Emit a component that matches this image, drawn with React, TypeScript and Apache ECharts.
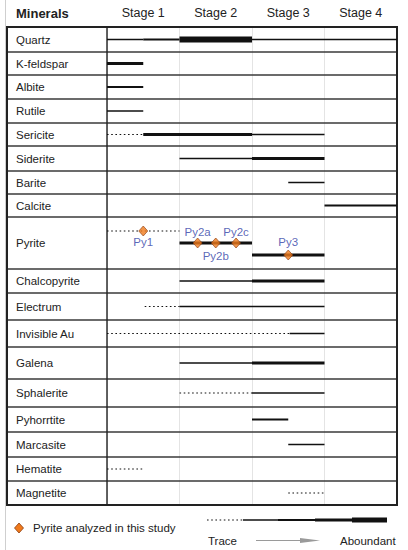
import React, { useEffect, useRef } from "react";
import * as echarts from "echarts";

// ---------- data ----------
const stages = ["Stage 1", "Stage 2", "Stage 3", "Stage 4"];

const minerals = [
  "Quartz", "K-feldspar", "Albite", "Rutile", "Sericite", "Siderite", "Barite",
  "Calcite", "Pyrite", "Chalcopyrite", "Electrum", "Invisible Au", "Galena",
  "Sphalerite", "Pyhorrtite", "Marcasite", "Hematite", "Magnetite",
];

// abundance level: 0 trace (dotted), 1 minor, 2 moderate, 3 major, 4 abundant
// [mineral, from stage, to stage, level]
const occurrences: [string, number, number, number][] = [
  ["Quartz", 0, 0.5, 1], ["Quartz", 0.5, 1, 2], ["Quartz", 1, 2, 4], ["Quartz", 2, 4, 1],
  ["K-feldspar", 0, 0.5, 3],
  ["Albite", 0, 0.5, 2],
  ["Rutile", 0, 0.5, 1],
  ["Sericite", 0, 0.5, 0], ["Sericite", 0.5, 2, 3], ["Sericite", 2, 3, 1],
  ["Siderite", 1, 2, 1], ["Siderite", 2, 3, 3],
  ["Barite", 2.5, 3, 1],
  ["Calcite", 3, 4, 2],
  ["Chalcopyrite", 1, 2, 1], ["Chalcopyrite", 2, 3, 3],
  ["Electrum", 0.52, 1, 0], ["Electrum", 1, 3, 1],
  ["Invisible Au", 0, 2.52, 0], ["Invisible Au", 2.52, 3, 1],
  ["Galena", 1, 2, 1], ["Galena", 2, 3, 3],
  ["Sphalerite", 1, 2, 0], ["Sphalerite", 2, 3, 1],
  ["Pyhorrtite", 2, 2.5, 2],
  ["Marcasite", 2.5, 3, 1],
  ["Hematite", 0, 0.5, 0],
  ["Magnetite", 2.5, 3, 0],
];

// pyrite generations: [name, from stage, to stage, level, lane]
const pyriteGenerations: [string, number, number, number, number][] = [
  ["Py1", 0, 1, 0, -1],
  ["Py2", 1, 2, 3, 0],
  ["Py3", 2, 3, 3, 1],
];

// analysed pyrite samples
const pyriteSamples = ["Py1", "Py2a", "Py2b", "Py2c", "Py3"];
const pyriteStage = [0.5, 1.25, 1.5, 1.78, 2.5];
const pyriteLane = [-1, 0, 0, 0, 1];
const pyriteLabelSide = ["bottom", "top", "bottom", "top", "top"];

// ---------- layout ----------
const ROW_H = [25, 23, 24, 24, 23, 25, 23, 23, 52, 24, 27, 27, 32, 28, 25, 25, 24, 24];
const rowStart: number[] = [];
{
  let acc = 0;
  ROW_H.forEach((h) => { rowStart.push(acc); acc += h; });
}
const TOTAL = ROW_H.reduce((a, b) => a + b, 0);
const LABEL_COL = 100;
const LANE = 12;
const FONT = "'Liberation Sans', Arial, Helvetica, sans-serif";
const LEVEL_W = [1.1, 1.3, 2.2, 3, 6];

function rowCenter(name: string) {
  const i = minerals.indexOf(name);
  return rowStart[i] + ROW_H[i] / 2;
}

function lineStyle(level: number) {
  return {
    stroke: "#111",
    lineWidth: LEVEL_W[level],
    lineDash: level === 0 ? [1.6, 2.6] : null,
    lineCap: "butt",
  };
}

export default function App() {
  const ref = useRef<HTMLDivElement>(null);
  useEffect(() => {
    if (!ref.current) return;
    const chart = echarts.init(ref.current, null, { renderer: "svg" });

    const segData = [
      ...occurrences.map((o) => [o[1], rowCenter(o[0]), o[2], o[3]]),
      ...pyriteGenerations.map((g) => [g[1], rowCenter("Pyrite") + g[4] * LANE, g[2], g[3]]),
    ];

    const labelDistance: Record<string, number> = { Py1: 0, Py2a: 0, Py2b: 2, Py2c: 0, Py3: 2 };

    const option: any = {
      animation: false,
      grid: { left: 107, right: 11, top: 27, bottom: 45 },
      xAxis: [
        {
          type: "value", min: 0, max: 4, interval: 1,
          axisLine: { show: false }, axisTick: { show: false }, axisLabel: { show: false },
          splitLine: { show: true, lineStyle: { color: "#e4e4e4", width: 1 } },
        },
        {
          type: "category", data: stages, position: "top", boundaryGap: true,
          axisLine: { show: false }, axisTick: { show: false }, splitLine: { show: false },
          axisLabel: { margin: 8, fontSize: 12.5, color: "#222", fontFamily: FONT },
        },
      ],
      yAxis: { type: "value", min: 0, max: TOTAL, inverse: true, show: false },
      graphic: [
        { type: "line", shape: { x1: 5.5, y1: 0, x2: 5.5, y2: 550 }, style: { stroke: "#cfcfcf", lineWidth: 1 } },
        { type: "text", left: 16, top: 7, style: { text: "Minerals", font: `bold 13px ${FONT}`, fill: "#222" } },
        // legend: analysed pyrite
        { type: "polygon", shape: { points: [[19, 523], [23.5, 528], [19, 533], [14.5, 528]] }, style: { fill: "#f07a1c", stroke: "#8a3c10", lineWidth: 0.8 } },
        { type: "text", x: 33, y: 528, style: { text: "Pyrite analyzed in this study", font: `11.5px ${FONT}`, fill: "#222", verticalAlign: "middle" } },
        // legend: abundance
        { type: "line", shape: { x1: 207, y1: 520, x2: 243, y2: 520 }, style: lineStyle(0) },
        { type: "line", shape: { x1: 243, y1: 520, x2: 278, y2: 520 }, style: lineStyle(1) },
        { type: "line", shape: { x1: 278, y1: 520, x2: 315, y2: 520 }, style: lineStyle(2) },
        { type: "line", shape: { x1: 315, y1: 520, x2: 352, y2: 520 }, style: lineStyle(3) },
        { type: "line", shape: { x1: 352, y1: 520, x2: 387, y2: 520 }, style: { ...lineStyle(4), lineWidth: 5 } },
        { type: "text", x: 208, y: 541, style: { text: "Trace", font: `11.5px ${FONT}`, fill: "#222", verticalAlign: "middle" } },
        { type: "line", shape: { x1: 256, y1: 540.5, x2: 305, y2: 540.5 }, style: { stroke: "#9a9a9a", lineWidth: 1 } },
        { type: "polygon", shape: { points: [[300, 538], [320, 540.5], [300, 543]] }, style: { fill: "#9a9a9a" } },
        { type: "text", x: 340, y: 541, style: { text: "Aboundant", font: `11.5px ${FONT}`, fill: "#222", verticalAlign: "middle" } },
      ],
      series: [
        {
          name: "rows", type: "custom", clip: false, silent: true, z: 3,
          data: minerals.map((m, i) => [0, rowStart[i], rowStart[i] + ROW_H[i], i]),
          renderItem: (params: any, api: any) => {
            const y0 = api.value(1), y1 = api.value(2), i = api.value(3);
            const pTop = api.coord([0, y0]);
            const pBot = api.coord([4, y1]);
            const pMid = api.coord([0, (y0 + y1) / 2]);
            const children: any[] = [
              { type: "text", style: { text: minerals[i], x: pTop[0] - LABEL_COL + 9, y: pMid[1], verticalAlign: "middle", font: `11.5px ${FONT}`, fill: "#222" } },
            ];
            if (i < minerals.length - 1) {
              children.push({ type: "line", shape: { x1: pTop[0] - LABEL_COL, y1: pBot[1], x2: pBot[0], y2: pBot[1] }, style: { stroke: "#3a3a3a", lineWidth: 1.3 } });
            }
            return { type: "group", children };
          },
        },
        {
          name: "frame", type: "custom", clip: false, silent: true, z: 4,
          data: [[0, 0]],
          renderItem: (params: any, api: any) => {
            const a = api.coord([0, 0]);
            const b = api.coord([4, TOTAL]);
            return {
              type: "group",
              children: [
                { type: "rect", shape: { x: a[0] - LABEL_COL, y: a[1], width: b[0] - a[0] + LABEL_COL, height: b[1] - a[1] }, style: { fill: "none", stroke: "#222", lineWidth: 2 } },
                { type: "line", shape: { x1: a[0], y1: a[1], x2: a[0], y2: b[1] }, style: { stroke: "#222", lineWidth: 1.4 } },
              ],
            };
          },
        },
        {
          name: "occurrence", type: "custom", clip: false, silent: true, z: 5,
          data: segData,
          renderItem: (params: any, api: any) => {
            const p1 = api.coord([api.value(0), api.value(1)]);
            const p2 = api.coord([api.value(2), api.value(1)]);
            return { type: "line", shape: { x1: p1[0], y1: p1[1], x2: p2[0], y2: p2[1] }, style: lineStyle(api.value(3)) };
          },
        },
        {
          name: "Pyrite analyzed in this study", type: "scatter", z: 6,
          symbol: "diamond", symbolSize: [9, 10],
          itemStyle: { color: "#f07a1c", borderColor: "#8a3c10", borderWidth: 0.8 },
          label: { show: true, formatter: "{b}", color: "#2f3ea6", fontSize: 11.5, fontFamily: FONT },
          data: pyriteSamples.map((n, k) => ({
            name: n,
            value: [pyriteStage[k], rowCenter("Pyrite") + pyriteLane[k] * LANE],
            label: { position: pyriteLabelSide[k], distance: labelDistance[n] },
          })),
        },
      ],
    };
    chart.setOption(option);
    return () => chart.dispose();
  }, []);
  return <div ref={ref} style={{ width: 408, height: 550, position: "absolute", left: 0, top: 0 }} />;
}
